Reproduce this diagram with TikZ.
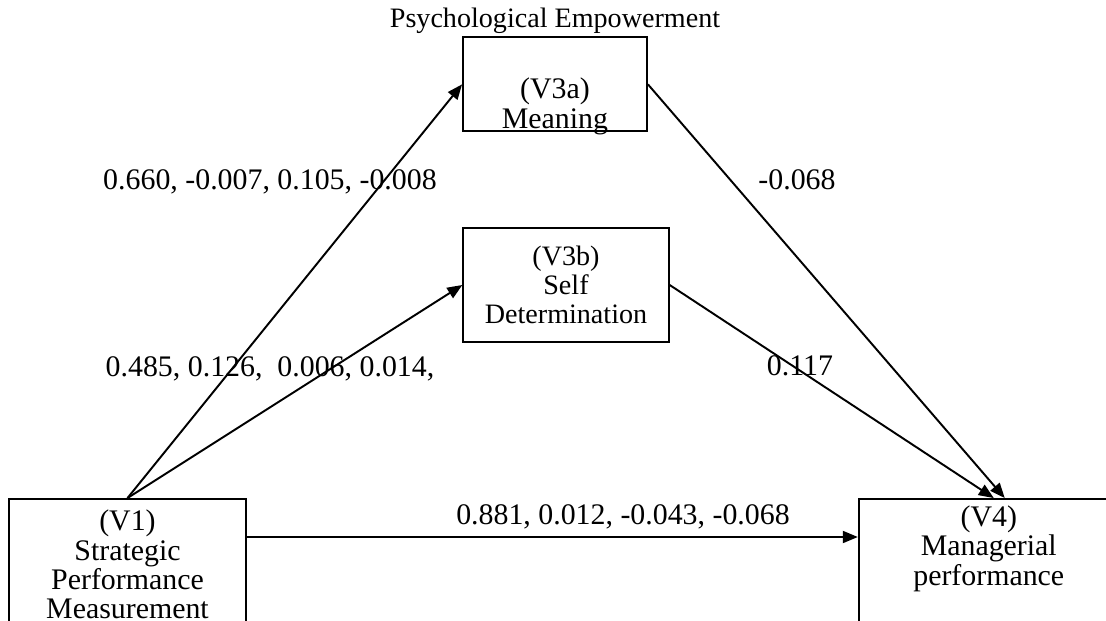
\documentclass[tikz,border=0pt]{standalone}
\usepackage{fontspec}
\setmainfont{Liberation Serif}
\usetikzlibrary{arrows.meta, positioning}

\begin{document}
\begin{tikzpicture}[x=0.02cm, y=-0.02cm,
  var/.style={rectangle, draw=black, line width=1.1pt, align=center, inner sep=0pt, font=\fontsize{17}{16.7}\selectfont},
  coef/.style={inner sep=0pt, font=\fontsize{17}{17}\selectfont},
  arrow/.style={-{Triangle[length=0.3cm, width=0.24cm]}, line width=1.1pt, black}
]
  \useasboundingbox (0,0) rectangle (1106,621);
  \clip (0,0) rectangle (1106,621);

  \node[var, minimum width=4.74cm, minimum height=2.62cm] (spm) at (127.5,564.5) {(V1)\\Strategic\\Performance\\Measurement};
  \node[var, minimum width=5.2cm, minimum height=2.62cm, right=12.22cm of spm] (mgp) {(V4)\\Managerial\\performance\\\strut};
  \node[var, line width=0.8pt, minimum width=4.12cm, minimum height=2.28cm, font=\fontsize{16}{16.5}\selectfont] (selfdet) at (566,285) {(V3b)\\Self\\Determination};
  \node[var, minimum width=3.68cm, minimum height=1.88cm, above=1.9cm of selfdet, xshift=-0.22cm,
    label={[align=center, font=\fontsize{17}{17.5}\selectfont, yshift=-0.44cm]center:(V3a)\\Meaning}] (meaning) {};
  \node[coef, font=\fontsize{16}{16}\selectfont] (psyemp) at (555,21) {Psychological Empowerment};

  \draw[arrow] (spm.north) -- (meaning.west);
  \draw[arrow] (spm.north) -- (selfdet.west);
  \draw[arrow] ([yshift=0.55cm]spm.east) -- ([yshift=0.55cm]mgp.west);
  \draw[arrow] (meaning.east) -- ([xshift=0.32cm]mgp.north);
  \draw[arrow] (selfdet.east) -- ([xshift=0.1cm]mgp.north);

  \node[coef] (coefmean) at (270,182) {0.660, -0.007, 0.105, -0.008};
  \node[coef] (coefself) at (270,369) {0.485, 0.126, \ 0.006, 0.014,};
  \node[coef] (coefdirect) at (623,517) {0.881, 0.012, -0.043, -0.068};
  \node[coef] (coefmeanout) at (797,180) {-0.068};
  \node[coef] (coefselfout) at (800,366) {0.117};
\end{tikzpicture}
\end{document}
